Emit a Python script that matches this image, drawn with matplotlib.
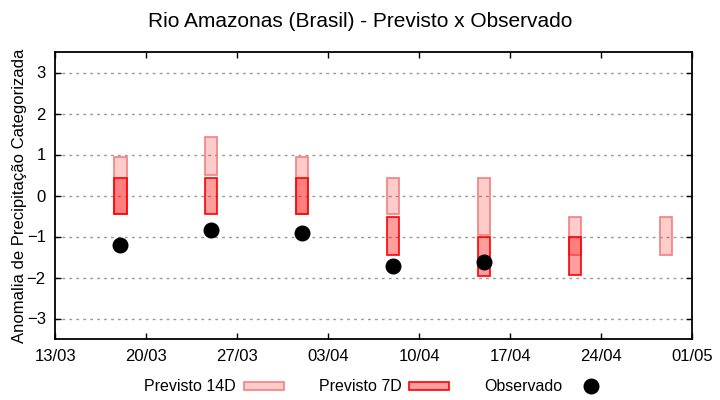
import numpy as np
import pandas as pd
import matplotlib
matplotlib.use("Agg")
import matplotlib.pyplot as plt
import matplotlib.dates as mdates
from matplotlib.patches import Rectangle
from matplotlib.lines import Line2D

plt.rcParams['font.family'] = ['Liberation Sans', 'DejaVu Sans']

# data
datas = pd.to_datetime(['2024-03-18', '2024-03-25', '2024-04-01', '2024-04-08',
                        '2024-04-15', '2024-04-22', '2024-04-29'])
prev14_max = [0.95, 1.43, 0.95, 0.43, 0.43, -0.52, -0.52]
prev14_min = [-0.45, 0.50, -0.45, -0.45, -0.96, -1.45, -1.45]
prev7_max = [0.43, 0.43, 0.43, -0.52, -1.0, -1.0, np.nan]
prev7_min = [-0.45, -0.45, -0.45, -1.45, -1.96, -1.95, np.nan]
obs_datas = datas[:5]
observado = [-1.2, -0.84, -0.91, -1.72, -1.61]

titulo = 'Rio Amazonas (Brasil) - Previsto x Observado'
ylabel = 'Anomalia de Precipitação Categorizada'

fig = plt.figure(figsize=(7.2, 4.0), dpi=100)
ax = fig.add_axes([0.077, 0.1525, 0.884, 0.7175])

x = mdates.date2num(datas)
larg = 0.95

# previsto 14 dias (desenhado primeiro)
ax.bar(x, np.array(prev14_max) - np.array(prev14_min), bottom=prev14_min, width=larg,
       color=(1, 0, 0, 0.2), edgecolor='#f47f7f', linewidth=1.2, zorder=2)
# previsto 7 dias
ax.bar(x, np.array(prev7_max) - np.array(prev7_min), bottom=prev7_min, width=larg,
       color=(1, 0, 0, 0.38), edgecolor='red', linewidth=1.2, zorder=3)
# observado
ax.plot(mdates.date2num(obs_datas), observado, 'o', color='black', markersize=10.5, zorder=4)

ax.set_xlim(mdates.date2num(pd.Timestamp('2024-03-13')), mdates.date2num(pd.Timestamp('2024-05-01')))
ax.set_ylim(-3.5, 3.5)
ax.set_xticks(mdates.date2num(pd.date_range('2024-03-13', '2024-05-01', freq='7D')))
ax.xaxis.set_major_formatter(mdates.DateFormatter('%d/%m'))
ax.set_yticks(range(-3, 4))

ax.grid(axis='y', color='#999999', linestyle=(0, (2, 3)), linewidth=1)
ax.set_axisbelow(True)
ax.tick_params(direction='in', length=4, width=1, labelsize=12, right=True, top=True,
               pad=7, colors='black')
for s in ax.spines.values():
    s.set_linewidth(1.3)

ax.set_ylabel(ylabel, fontsize=12, labelpad=0)
fig.suptitle(titulo, fontsize=15, y=0.97)

# legenda
h14 = Rectangle((0, 0), 1, 1, facecolor=(1, 0, 0, 0.2), edgecolor='#f47f7f', linewidth=1.2)
h7 = Rectangle((0, 0), 1, 1, facecolor=(1, 0, 0, 0.38), edgecolor='red', linewidth=1.2)
hobs = Line2D([], [], marker='o', color='black', linestyle='none', markersize=10.5)
fig.legend([h14, h7, hobs], ['Previsto 14D', 'Previsto 7D', 'Observado'],
           loc='center', bbox_to_anchor=(0.524, 0.033), ncol=3, frameon=False,
           markerfirst=False, fontsize=11.5, handlelength=2.5, handleheight=0.4,
           columnspacing=2.2, handletextpad=0.5)

fig.savefig('out.png', dpi=100)
